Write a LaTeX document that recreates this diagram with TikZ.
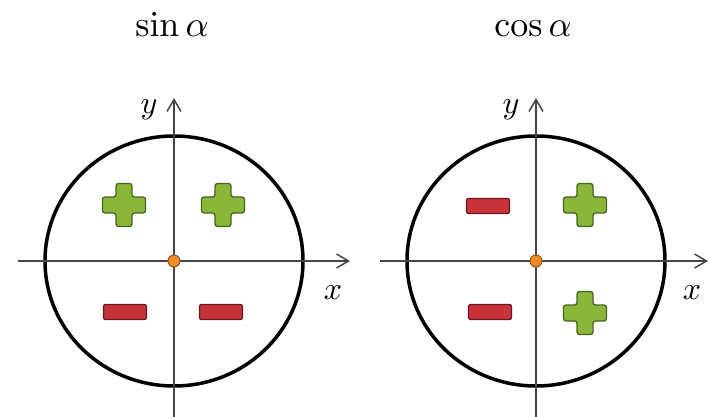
\documentclass[tikz,border=0pt]{standalone}
\usetikzlibrary{arrows.meta}

\definecolor{verde}{RGB}{138,182,58}
\definecolor{verdescuro}{RGB}{70,100,30}
\definecolor{rosso}{RGB}{200,50,58}
\definecolor{rossoscuro}{RGB}{105,25,28}
\definecolor{arancio}{RGB}{240,140,40}
\definecolor{assegrigio}{RGB}{70,70,70}

\tikzset{
    asse/.style = {->, assegrigio, line width=1.5pt},
    cerchio/.style = {black, line width=3.5pt},
    titolo/.style = {anchor=base, scale=3.6},
    etichetta/.style = {scale=3.2},
    plussign/.pic = {
        \filldraw[fill=verde, draw=verdescuro, line width=1.3pt, rounded corners=2.5pt]
            (-8,-21.5) -- (8,-21.5) -- (8,-8) -- (21.5,-8) -- (21.5,8)
            -- (8,8) -- (8,21.5) -- (-8,21.5) -- (-8,8) -- (-21.5,8)
            -- (-21.5,-8) -- (-8,-8) -- cycle;
    },
    minussign/.pic = {
        \filldraw[fill=rosso, draw=rossoscuro, line width=1.3pt, rounded corners=2pt]
            (-21.5,-7.5) rectangle (21.5,7.5);
    }
}

\begin{document}
\begin{tikzpicture}[x = 1pt, y = -1pt, >={Straight Barb[length=12pt,width=14pt]}]

    \useasboundingbox (0,0) rectangle (709,417);

    % Titoli
    \node[titolo] (tsin) at (172,37) {$\sin\alpha$};
    \node[titolo] (tcos) at (533,37) {$\cos\alpha$};

    % Centri
    \coordinate (Osin) at (174,261);
    \coordinate (Ocos) at (536,261);

    % Cerchi
    \draw[cerchio] (Osin) ellipse (129 and 125);
    \draw[cerchio] (Ocos) ellipse (129 and 125);

    % Assi seno
    \coordinate (sinxa) at (18,261);
    \coordinate (sinxb) at (350,261);
    \coordinate (sinya) at (174,417);
    \coordinate (sinyb) at (174,98);
    \draw[asse] (sinxa) -- (sinxb);
    \draw[asse] (sinya) -- (sinyb);
    \node[etichetta] (sinx) at (333,293) {$x$};
    \node[etichetta] (siny) at (149,110) {$y$};

    % Assi coseno
    \coordinate (cosxa) at (380,261);
    \coordinate (cosxb) at (708,261);
    \coordinate (cosya) at (536,417);
    \coordinate (cosyb) at (536,98);
    \draw[asse] (cosxa) -- (cosxb);
    \draw[asse] (cosya) -- (cosyb);
    \node[etichetta] (cosx) at (692,293) {$x$};
    \node[etichetta] (cosy) at (511,110) {$y$};

    % Segni seno
    \pic at (124,205) {plussign};
    \pic at (223,205) {plussign};
    \pic at (125,312) {minussign};
    \pic at (221,312) {minussign};

    % Segni coseno
    \pic at (488,206) {minussign};
    \pic at (585,205) {plussign};
    \pic at (490,312) {minussign};
    \pic at (585,313) {plussign};

    % Origini
    \filldraw[fill=arancio, draw=arancio!60!black, line width=1pt] (Osin) circle (6);
    \filldraw[fill=arancio, draw=arancio!60!black, line width=1pt] (Ocos) circle (6);

\end{tikzpicture}
\end{document}
